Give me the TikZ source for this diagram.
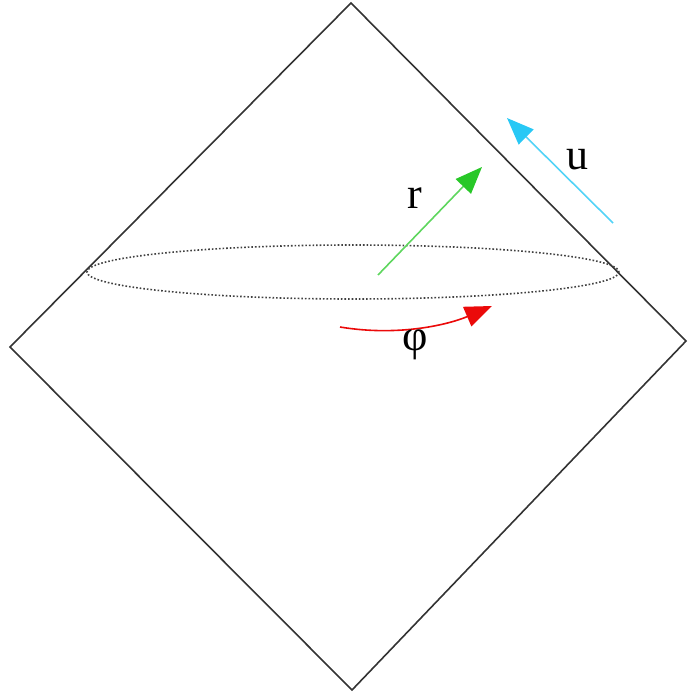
\documentclass[tikz,border=0pt]{standalone}
\usepackage{fontspec}
\setmainfont{Liberation Serif}
\usetikzlibrary{arrows.meta}

\definecolor{rgreen}{RGB}{40,200,40}
\definecolor{ucyan}{RGB}{40,200,245}
\definecolor{phired}{RGB}{235,10,10}

\tikzset{
    edge/.style={line width=1.6pt, color=black!80},
    vec/.style={line width=1.6pt, -{Triangle[length=27pt,width=21pt]}},
    lbl/.style={font=\fontsize{44}{52}\selectfont, inner sep=0pt}
}

\begin{document}
\begin{tikzpicture}[x=1pt, y=-1pt]
        \useasboundingbox (0,0) rectangle (687,695);

        % corners of the diamond
        \coordinate (top) at (351,3);
        \coordinate (left) at (10,347);
        \coordinate (right) at (686,341);
        \coordinate (bottom) at (352,690);

        % draw diamond
        \draw[edge] (top) -- (right) -- (bottom) -- (left) -- cycle;

        % draw circle (dotted ellipse)
        \draw[dotted, line width=1.6pt, color=black!75] (353,272) ellipse (266 and 27);

        % draw r vector
        \coordinate (rtail) at (378,275);
        \coordinate (rhead) at (482,167);
        \draw[vec, color=rgreen!75, -{Triangle[length=27pt,width=21pt,fill=rgreen,color=rgreen]}] (rtail) -- (rhead);
        \node[lbl] (r) at (415,198) {r};

        % draw u vector
        \coordinate (utail) at (613,223);
        \coordinate (uhead) at (507,118);
        \draw[vec, color=ucyan!80, -{Triangle[length=27pt,width=21pt,fill=ucyan,color=ucyan]}] (utail) -- (uhead);
        \node[lbl] (u) at (577,160) {u};

        % draw phi arrow
        \coordinate (ptail) at (340,327);
        \coordinate (phead) at (492,306);
        \draw[vec, color=phired] (ptail) .. controls (400,337) and (450,324) .. (phead);
        \node[lbl] (phi) at (415,345) {φ};
    \end{tikzpicture}
\end{document}
